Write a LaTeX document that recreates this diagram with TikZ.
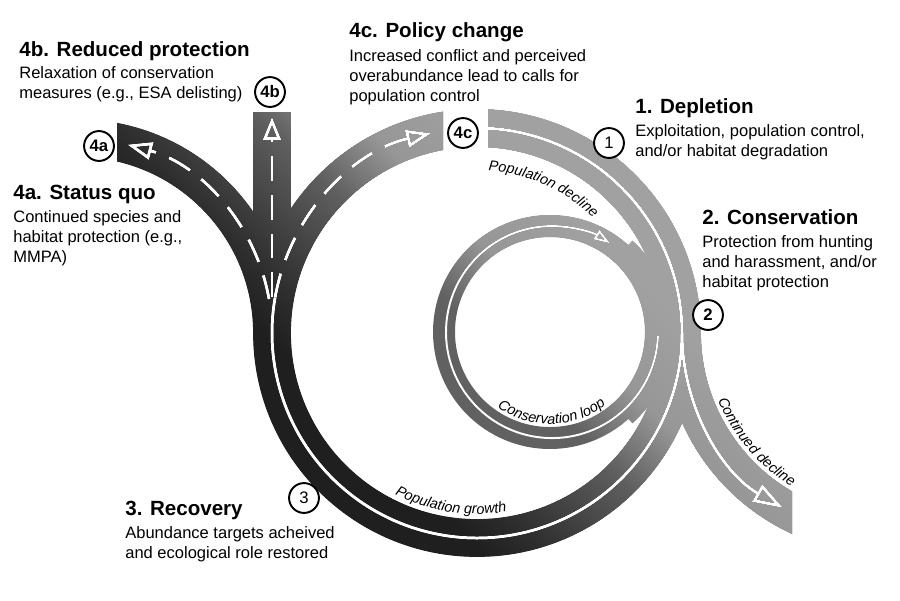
\documentclass[tikz,border=0pt]{standalone}
\usepackage{fontspec}
\setmainfont{Liberation Sans}
\usetikzlibrary{arrows.meta,decorations.text,shadings}

\pgfdeclarehorizontalshading{roadshade}{100bp}{color(0bp)=(black!88); color(38bp)=(black!88); color(42bp)=(black!82); color(51bp)=(black!63); color(57bp)=(black!41); color(64bp)=(black!37); color(100bp)=(black!37)}

\tikzset{
  road/.style={line width=21.5pt},
  thinroad/.style={line width=12.5pt, black!62},
  lane/.style={white, line width=1.7pt},
  dashlane/.style={lane, dash pattern=on 14pt off 8pt},
  head/.style={anchor=base west, inner sep=0pt, font=\fontsize{11.7}{14}\selectfont\bfseries},
  body/.style={anchor=north west, inner sep=0pt, align=left, font=\fontsize{9.4}{11.3}\selectfont},
  num/.style={circle, draw, line width=1.1pt, fill=white, inner sep=0pt, minimum size=17pt, font=\fontsize{9.5}{10}\selectfont},
  pathlabel/.style={decorate, decoration={text along path, text align=left, text={|\fontsize{8.2}{9}\selectfont\itshape|#1}}}
}

\begin{document}
\begin{tikzpicture}[x=0.02cm,y=-0.02cm]
\useasboundingbox (0,0) rectangle (900,600);
\fill[white] (0,0) rectangle (900,600);
\coordinate (o1) at (477,333);
\coordinate (o2) at (884,333);
\coordinate (o3) at (77,333);
\coordinate (o4) at (550,332);

% roads, cut square at their ends
\begin{scope}
\clip (117,0) rectangle (443,600) (488,0) rectangle (792,600) (440,200) rectangle (491,600);
\draw[road] (o1) circle[radius=205];
\draw[road] (o2) ++(180:202) arc[start angle=180, end angle=105, radius=202];
\draw[road] (o3) ++(0:195) arc[start angle=0, end angle=-85, radius=195];
\draw[road] (272,333) -- (272,112);
\draw[thinroad] (o4) circle[radius=106];
\draw[thinroad] (o4) ++(-48:112) arc[start angle=-48, end angle=48, radius=112];
\end{scope}

% lane markings
\draw[lane] (o1) ++(273:205) arc[start angle=273, end angle=550, radius=205];
\draw[lane,-{Triangle[open,length=17pt,width=11pt]}] (o2) ++(180:202) arc[start angle=180, end angle=120, radius=202];
\draw[lane,line width=1.1pt,-{Triangle[open,length=9pt,width=6pt]}] (o4) ++(2:108) arc[start angle=2, end angle=303, radius=106];
\draw[dashlane,-{Triangle[open,length=14pt,width=10pt]}] (o1) ++(190:205) arc[start angle=190, end angle=257, radius=205];
\draw[dashlane,-{Triangle[open,length=14pt,width=10pt]}] (o3) ++(-10:195) arc[start angle=-10, end angle=-75, radius=195];
\draw[dashlane,-{Triangle[open,length=13pt,width=10pt]}] (272,297) -- (272,117);

% grey fade over the roads
\begin{scope}[blend mode=lighten]
\shade[shading=roadshade, shading angle=45] (105,100) rectangle (810,565);
\end{scope}

% labels along the roads
\path[pathlabel=Population decline] (o1) ++(-86:163) arc[start angle=-86, end angle=-20, radius=163];
\path[pathlabel=Population growth] (o1) ++(117:181) arc[start angle=117, end angle=60, radius=181];
\path[pathlabel=Conservation loop] (o4) ++(125:92) arc[start angle=125, end angle=30, radius=92];
\path[pathlabel=Continued decline] (o2) ++(158:179) arc[start angle=158, end angle=100, radius=179];

% stage numbers
\node[num,font=\fontsize{9.5}{10}\selectfont\bfseries] (c4a) at (99,146) {4a};
\node[num,font=\fontsize{9.5}{10}\selectfont\bfseries] (c4b) at (270,92) {4b};
\node[num,font=\fontsize{9.5}{10}\selectfont\bfseries] (c4c) at (463,133) {4c};
\node[num] (c1) at (609,143) {1};
\node[num,font=\fontsize{9.5}{10}\selectfont\bfseries] (c2) at (708,315) {2};
\node[num] (c3) at (304,498) {3};

% stage texts
\node[head] (h4b) at (19,56) {4b. Reduced protection};
\node[body] (t4b) at (19,66) {Relaxation of conservation\\measures (e.g., ESA delisting)};
\node[head] (h4c) at (349,37) {4c. Policy change};
\node[body] (t4c) at (349,49) {Increased conflict and perceived\\overabundance lead to calls for\\population control};
\node[head] (h1) at (635,113) {1. Depletion};
\node[body] (t1) at (635,124) {Exploitation, population control,\\and/or habitat degradation};
\node[head] (h2) at (702,224) {2. Conservation};
\node[body] (t2) at (702,235) {Protection from hunting\\and harassment, and/or\\habitat protection};
\node[head] (h4a) at (13,199) {4a. Status quo};
\node[body] (t4a) at (13,210) {Continued species and\\habitat protection (e.g.,\\MMPA)};
\node[head] (h3) at (125,515) {3. Recovery};
\node[body] (t3) at (125,526) {Abundance targets acheived\\and ecological role restored};
\end{tikzpicture}
\end{document}
